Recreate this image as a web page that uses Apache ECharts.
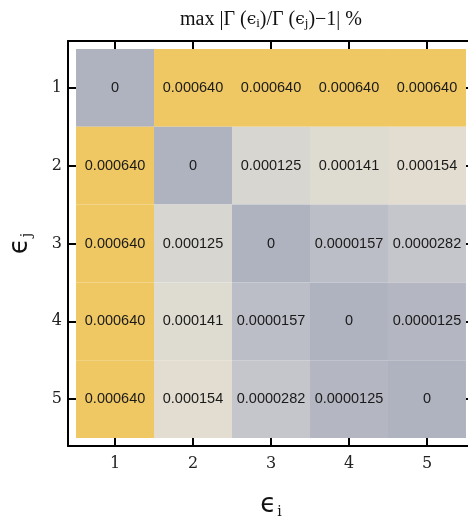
<!DOCTYPE html>
<html>
<head>
<meta charset="utf-8">
<style>
  html, body { margin: 0; padding: 0; background: #fff; }
  #chart { width: 468px; height: 517px; }
</style>
<script src="https://cdn.jsdelivr.net/npm/echarts@6/dist/echarts.min.js"></script>
</head>
<body>
<div id="chart"></div>
<script>
// Indices of the epsilon parameter along each axis
const epsI = [1, 2, 3, 4, 5];
const epsJ = [1, 2, 3, 4, 5];
const tickLabels = ['1', '2', '3', '4', '5'];

// max |Γ(ϵi)/Γ(ϵj) − 1| in percent, one array per row (ϵj)
const rowJ1 = [0, 0.000640, 0.000640, 0.000640, 0.000640];
const rowJ2 = [0.000640, 0, 0.000125, 0.000141, 0.000154];
const rowJ3 = [0.000640, 0.000125, 0, 0.0000157, 0.0000282];
const rowJ4 = [0.000640, 0.000141, 0.0000157, 0, 0.0000125];
const rowJ5 = [0.000640, 0.000154, 0.0000282, 0.0000125, 0];

const rows = [rowJ1, rowJ2, rowJ3, rowJ4, rowJ5];
const cells = [];
rows.forEach((row, r) => row.forEach((v, c) => cells.push([epsI[c], epsJ[r], v])));
const vMax = 0.000640;

// Colour ramp: slate grey for zero, warm beige in the middle, amber at the top
const anchors = [
  [0.000, [174, 179, 191]],
  [0.020, [180, 183, 194]],
  [0.025, [188, 191, 199]],
  [0.045, [197, 198, 203]],
  [0.195, [216, 214, 208]],
  [0.220, [222, 219, 209]],
  [0.240, [226, 221, 208]],
  [0.600, [234, 213, 160]],
  [1.000, [239, 200, 100]]
];
function rampColor(t) {
  for (let k = 1; k < anchors.length; k++) {
    const [t1, c1] = anchors[k];
    const [t0, c0] = anchors[k - 1];
    if (t <= t1) {
      const f = (t - t0) / (t1 - t0);
      const c = c0.map((a, idx) => Math.round(a + (c1[idx] - a) * f));
      return 'rgb(' + c.join(',') + ')';
    }
  }
  return 'rgb(' + anchors[anchors.length - 1][1].join(',') + ')';
}
const rampStops = [];
for (let k = 0; k <= 400; k++) rampStops.push(rampColor(k / 400));

function fmtValue(v) {
  return v === 0 ? '0' : v.toPrecision(3);
}

const lo = 0.397, hi = 5.603;
const frame = { color: '#000', width: 2 };
const tickFont = { fontFamily: 'DejaVu Serif', fontSize: 16, color: '#222' };

const epsRich = {
  e: { fontFamily: 'DejaVu Sans', fontSize: 26, color: '#111' },
  s: { fontFamily: 'DejaVu Serif', fontSize: 14, color: '#111', padding: [14, 0, 0, 1] }
};
const titleRich = {
  t: { fontFamily: 'Liberation Serif', fontSize: 20, color: '#111' },
  e: { fontFamily: 'DejaVu Serif', fontSize: 17, color: '#111' },
  s: { fontFamily: 'Liberation Serif', fontSize: 13, color: '#111', padding: [8, 0, 0, 0] }
};

const chart = echarts.init(document.getElementById('chart'), null, { renderer: 'canvas' });
chart.setOption({
  animation: false,
  backgroundColor: '#fff',
  grid: { left: 68, top: 41, width: 406, height: 405, containLabel: false, outerBoundsMode: 'none' },
  visualMap: {
    show: false,
    type: 'continuous',
    dimension: 2,
    seriesIndex: 0,
    min: 0,
    max: vMax,
    inRange: { color: rampStops }
  },
  xAxis: [
    {
      type: 'value', position: 'bottom', min: lo, max: hi,
      splitLine: { show: false },
      axisLine: { lineStyle: frame },
      axisTick: { inside: true, length: 8, lineStyle: frame, customValues: epsI },
      axisLabel: Object.assign({ margin: 10, customValues: epsI,
        formatter: v => tickLabels[epsI.indexOf(Math.round(v))] }, tickFont),
      name: '{e|ϵ}{s|i}',
      nameLocation: 'middle',
      nameGap: 45,
      nameTextStyle: { rich: epsRich }
    },
    {
      type: 'value', position: 'top', min: lo, max: hi,
      splitLine: { show: false },
      axisLine: { lineStyle: frame },
      axisTick: { inside: true, length: 8, lineStyle: frame, customValues: epsI },
      axisLabel: { show: false },
      name: '{t|max |Γ (}{e|ϵ}{s|i}{t|)/Γ (}{e|ϵ}{s|j}{t|)−1| %}',
      nameLocation: 'middle',
      nameGap: 11,
      nameTextStyle: { rich: titleRich }
    }
  ],
  yAxis: [
    {
      type: 'value', position: 'left', inverse: true, min: lo, max: hi,
      splitLine: { show: false },
      axisLine: { lineStyle: frame },
      axisTick: { inside: true, length: 8, lineStyle: frame, customValues: epsJ },
      axisLabel: Object.assign({ margin: 6, customValues: epsJ,
        formatter: v => tickLabels[epsJ.indexOf(Math.round(v))] }, tickFont),
      name: '{e|ϵ}{s|j}',
      nameLocation: 'middle',
      nameGap: 34,
      nameRotate: 90,
      nameTextStyle: { rich: epsRich }
    },
    {
      type: 'value', position: 'right', inverse: true, min: lo, max: hi,
      splitLine: { show: false },
      axisLine: { lineStyle: frame },
      axisTick: { inside: true, length: 8, lineStyle: frame, customValues: epsJ },
      axisLabel: { show: false }
    }
  ],
  series: [{
    type: 'custom',
    coordinateSystem: 'cartesian2d',
    xAxisIndex: 0,
    yAxisIndex: 0,
    data: cells,
    encode: { x: 0, y: 1 },
    renderItem: function (params, api) {
      const x = api.value(0), y = api.value(1), v = api.value(2);
      const p0 = api.coord([x - 0.5, y - 0.5]);
      const p1 = api.coord([x + 0.5, y + 0.5]);
      return {
        type: 'rect',
        shape: {
          x: Math.min(p0[0], p1[0]),
          y: Math.min(p0[1], p1[1]),
          width: Math.abs(p1[0] - p0[0]),
          height: Math.abs(p1[1] - p0[1])
        },
        style: { fill: api.visual('color') },
        textContent: {
          style: {
            text: fmtValue(v),
            fill: '#1a1a1a',
            fontFamily: 'Liberation Sans',
            fontSize: 14.5
          }
        },
        textConfig: { position: 'inside' }
      };
    },
    z: 1
  }]
});
</script>
</body>
</html>
